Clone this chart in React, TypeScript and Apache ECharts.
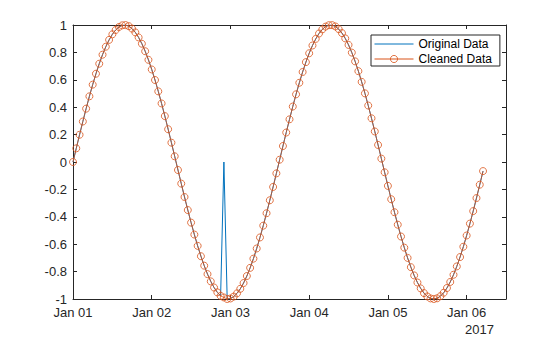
import React, { useEffect, useRef } from "react";
import * as echarts from "echarts";

// Hourly samples starting Jan 01 2017 00:00 (hour index = position in array)
const originalData: number[] = [
  0.0, 0.0998, 0.1987, 0.2955, 0.3894, 0.4794, 0.5646, 0.6442, 0.7174, 0.7833,
  0.8415, 0.8912, 0.932, 0.9636, 0.9854, 0.9975, 0.9996, 0.9917, 0.9738, 0.9463,
  0.9093, 0.8632, 0.8085, 0.7457, 0.6755, 0.5985, 0.5155, 0.4274, 0.335, 0.2392,
  0.1411, 0.0416, -0.0584, -0.1577, -0.2555, -0.3508, -0.4425, -0.5298, -0.6119, -0.6878,
  -0.7568, -0.8183, -0.8716, -0.9162, -0.9516, -0.9775, 0.0, -0.9999, -0.9962, -0.9825,
  -0.9589, -0.9258, -0.8835, -0.8323, -0.7728, -0.7055, -0.6313, -0.5507, -0.4646, -0.3739,
  -0.2794, -0.1822, -0.0831, 0.0168, 0.1165, 0.2151, 0.3115, 0.4048, 0.4941, 0.5784,
  0.657, 0.729, 0.7937, 0.8504, 0.8987, 0.938, 0.9679, 0.9882, 0.9985, 0.9989,
  0.9894, 0.9699, 0.9407, 0.9022, 0.8546, 0.7985, 0.7344, 0.663, 0.5849, 0.501,
  0.4121, 0.3191, 0.2229, 0.1245, 0.0248, -0.0752, -0.1743, -0.2718, -0.3665, -0.4575,
  -0.544, -0.6252, -0.6999, -0.7676, -0.8279, -0.8796, -0.9227, -0.957, -0.9812, -0.9957,
  -1.0, -0.9949, -0.9794, -0.9543, -0.9196, -0.8757, -0.8231, -0.7622, -0.6938, -0.6184,
  -0.5366, -0.4498, -0.3584, -0.2633, -0.1657, -0.0663,
];

const cleanedData: number[] = [
  0.0, 0.0998, 0.1987, 0.2955, 0.3894, 0.4794, 0.5646, 0.6442, 0.7174, 0.7833,
  0.8415, 0.8912, 0.932, 0.9636, 0.9854, 0.9975, 0.9996, 0.9917, 0.9738, 0.9463,
  0.9093, 0.8632, 0.8085, 0.7457, 0.6755, 0.5985, 0.5155, 0.4274, 0.335, 0.2392,
  0.1411, 0.0416, -0.0584, -0.1577, -0.2555, -0.3508, -0.4425, -0.5298, -0.6119, -0.6878,
  -0.7568, -0.8183, -0.8716, -0.9162, -0.9516, -0.9775, -0.9887, -0.9999, -0.9962, -0.9825,
  -0.9589, -0.9258, -0.8835, -0.8323, -0.7728, -0.7055, -0.6313, -0.5507, -0.4646, -0.3739,
  -0.2794, -0.1822, -0.0831, 0.0168, 0.1165, 0.2151, 0.3115, 0.4048, 0.4941, 0.5784,
  0.657, 0.729, 0.7937, 0.8504, 0.8987, 0.938, 0.9679, 0.9882, 0.9985, 0.9989,
  0.9894, 0.9699, 0.9407, 0.9022, 0.8546, 0.7985, 0.7344, 0.663, 0.5849, 0.501,
  0.4121, 0.3191, 0.2229, 0.1245, 0.0248, -0.0752, -0.1743, -0.2718, -0.3665, -0.4575,
  -0.544, -0.6252, -0.6999, -0.7676, -0.8279, -0.8796, -0.9227, -0.957, -0.9812, -0.9957,
  -1.0, -0.9949, -0.9794, -0.9543, -0.9196, -0.8757, -0.8231, -0.7622, -0.6938, -0.6184,
  -0.5366, -0.4498, -0.3584, -0.2633, -0.1657, -0.0663,
];

const xTickLabels: string[] = ["Jan 01", "Jan 02", "Jan 03", "Jan 04", "Jan 05", "Jan 06"];
const yearLabel = "2017";
const seriesNames: string[] = ["Original Data", "Cleaned Data"];

const FONT = 'Arial, "Liberation Sans", Helvetica, sans-serif';
const AXIS_COLOR = "#262626";
const BLUE = "#0072BD";
const ORANGE = "#D95319";

export default function App() {
  const ref = useRef<HTMLDivElement>(null);

  useEffect(() => {
    if (!ref.current) return;
    const chart = echarts.init(ref.current, undefined, { renderer: "svg" });

    const orig = originalData.map((v, i) => [i, v]);
    const clean = cleanedData.map((v, i) => [i, v]);

    const xBase = {
      type: "value" as const,
      min: 0,
      max: 132,
      interval: 24,
      axisLine: { show: true, onZero: false, lineStyle: { color: AXIS_COLOR, width: 1 } },
      axisTick: { show: true, inside: true, length: 4, lineStyle: { color: AXIS_COLOR } },
      splitLine: { show: false },
    };
    const yBase = {
      type: "value" as const,
      min: -1,
      max: 1,
      interval: 0.2,
      axisLine: { show: true, onZero: false, lineStyle: { color: AXIS_COLOR, width: 1 } },
      axisTick: { show: true, inside: true, length: 4, lineStyle: { color: AXIS_COLOR } },
      splitLine: { show: false },
    };

    chart.setOption({
      animation: false,
      grid: { left: 73, right: 54, top: 25, bottom: 38, containLabel: false },
      xAxis: [
        {
          ...xBase,
          position: "bottom",
          axisLabel: {
            show: true,
            margin: 7,
            lineHeight: 13,
            color: AXIS_COLOR,
            fontSize: 13,
            fontFamily: FONT,
            showMaxLabel: false,
            formatter: (v: number) => (v % 24 === 0 ? xTickLabels[v / 24] ?? "" : ""),
          },
        },
        {
          ...xBase,
          position: "top",
          axisLabel: { show: false },
        },
      ],
      yAxis: [
        {
          ...yBase,
          position: "left",
          axisLabel: {
            show: true,
            margin: 6,
            lineHeight: 12,
            color: AXIS_COLOR,
            fontSize: 13,
            fontFamily: FONT,
          },
        },
        {
          ...yBase,
          position: "right",
          axisLabel: { show: false },
        },
      ],
      legend: {
        orient: "vertical",
        left: 371,
        top: 35,
        padding: [3, 8, 1, 3],
        itemGap: 3,
        itemWidth: 39,
        itemHeight: 9,
        backgroundColor: "#ffffff",
        borderColor: AXIS_COLOR,
        borderWidth: 1,
        borderRadius: 0,
        textStyle: { fontSize: 12, fontFamily: FONT, color: "#000000" },
        data: [
          { name: seriesNames[0], itemStyle: { opacity: 0 }, lineStyle: { width: 1, color: BLUE } },
          { name: seriesNames[1], lineStyle: { width: 1, color: ORANGE }, itemStyle: { borderWidth: 0.8 } },
        ],
      },
      graphic: [
        {
          type: "text",
          x: 494,
          y: 329,
          style: {
            text: yearLabel,
            fontSize: 13,
            fontFamily: FONT,
            fill: AXIS_COLOR,
            textAlign: "right",
            textVerticalAlign: "middle",
          },
        },
      ],
      series: [
        {
          name: seriesNames[0],
          type: "line",
          data: orig,
          xAxisIndex: 0,
          yAxisIndex: 0,
          symbol: "none",
          showSymbol: false,
          lineStyle: { color: BLUE, width: 1 },
          itemStyle: { color: BLUE },
        },
        {
          name: seriesNames[1],
          type: "line",
          data: clean,
          xAxisIndex: 0,
          yAxisIndex: 0,
          symbol: "circle",
          symbolSize: 7,
          showSymbol: true,
          lineStyle: { color: ORANGE, width: 0.8 },
          itemStyle: { color: "rgba(0,0,0,0)", borderColor: ORANGE, borderWidth: 0.8 },
        },
      ],
    });

    return () => {
      chart.dispose();
    };
  }, []);

  return (
    <div
      ref={ref}
      style={{ position: "fixed", left: 0, top: 0, width: 560, height: 337, background: "#ffffff" }}
    />
  );
}
